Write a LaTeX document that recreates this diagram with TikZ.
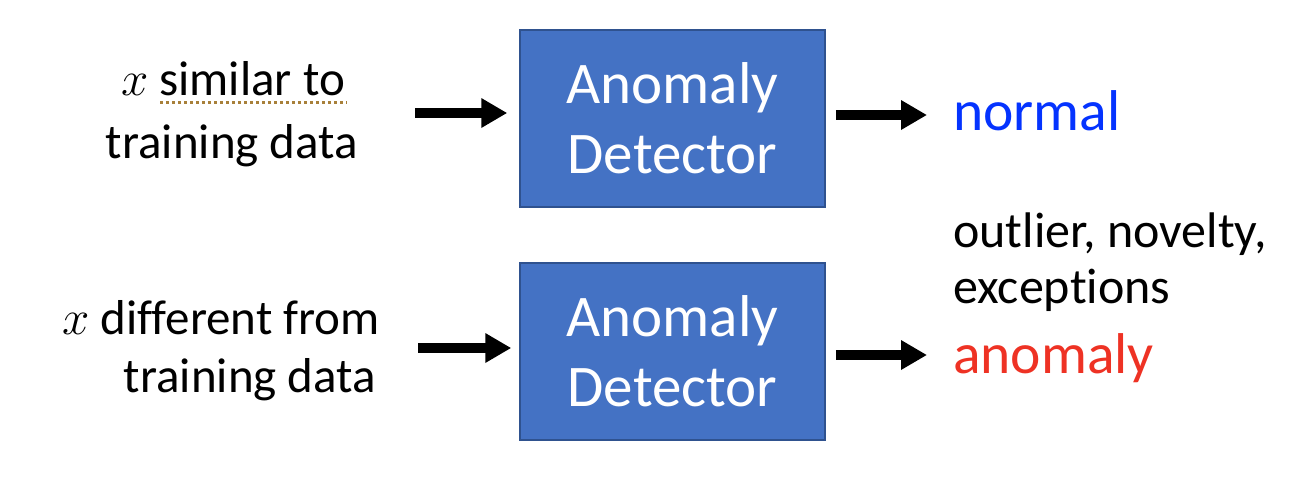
\RequirePackage{fix-cm}
\documentclass[tikz,border=0pt]{standalone}
\usepackage{fontspec}
\setmainfont{Carlito}[Ligatures=NoCommon]
\usetikzlibrary{arrows.meta}
\definecolor{boxfill}{HTML}{4472C4}
\definecolor{boxline}{HTML}{2F528F}
\definecolor{normblue}{HTML}{0433FF}
\definecolor{anomred}{HTML}{EE3224}
\definecolor{spell}{HTML}{A8803A}
\tikzset{
  detbox/.style={draw=boxline, line width=1.5pt, fill=boxfill, text=white,
    minimum width=305pt, minimum height=177pt, inner sep=0pt, align=center,
    font=\fontsize{59}{70}\selectfont},
  lefttext/.style={anchor=base, inner sep=0pt, font=\fontsize{49}{58}\selectfont},
  righttext/.style={anchor=base west, inner sep=0pt, font=\fontsize{50}{58}\selectfont},
  bigword/.style={anchor=base west, inner sep=0pt, font=\fontsize{57.5}{66}\selectfont},
  arr/.style={line width=10.5pt, -{Triangle[length=26pt,width=28pt]}},
  spellline/.style={draw=spell, line width=3pt, dash pattern=on 3pt off 3pt}
}
\begin{document}
\begin{tikzpicture}[x=1pt,y=-1pt]
\useasboundingbox (0,0) rectangle (1292,480);
% boxes
\node[detbox] (box1) at (672.5,118.5) {Anomaly\\Detector};
\node[detbox] (box2) at (672.5,351.5) {Anomaly\\Detector};
% left texts
\node[lefttext] (l1a) at (233,95) {$x$ similar to};
\node[lefttext] (l1b) at (232,158) {training data};
\node[lefttext] (l2a) at (221,334) {$x$ different from};
\node[lefttext] (l2b) at (250,392) {training data};
\draw[spellline] (160,102) -- (347,102);
% right texts
\node[bigword, text=normblue] (norm) at (953,130) {normal};
\node[righttext] (r1) at (953,247) {outlier, novelty,};
\node[righttext] (r2) at (953,303) {exceptions};
\node[bigword, text=anomred] (anom) at (953,373) {anomaly};
% arrows
\coordinate (in1) at (415,113);
\coordinate (in2) at (418,348);
\coordinate (out1) at (927,115);
\coordinate (out2) at (927,355);
\draw[arr, shorten >=12pt] (in1) -- (in1 -| box1.west);
\draw[arr, shorten >=8pt] (in2) -- (in2 -| box2.west);
\draw[arr, shorten <=10pt] (out1 -| box1.east) -- (out1);
\draw[arr, shorten <=10pt] (out2 -| box2.east) -- (out2);
\end{tikzpicture}
\end{document}
